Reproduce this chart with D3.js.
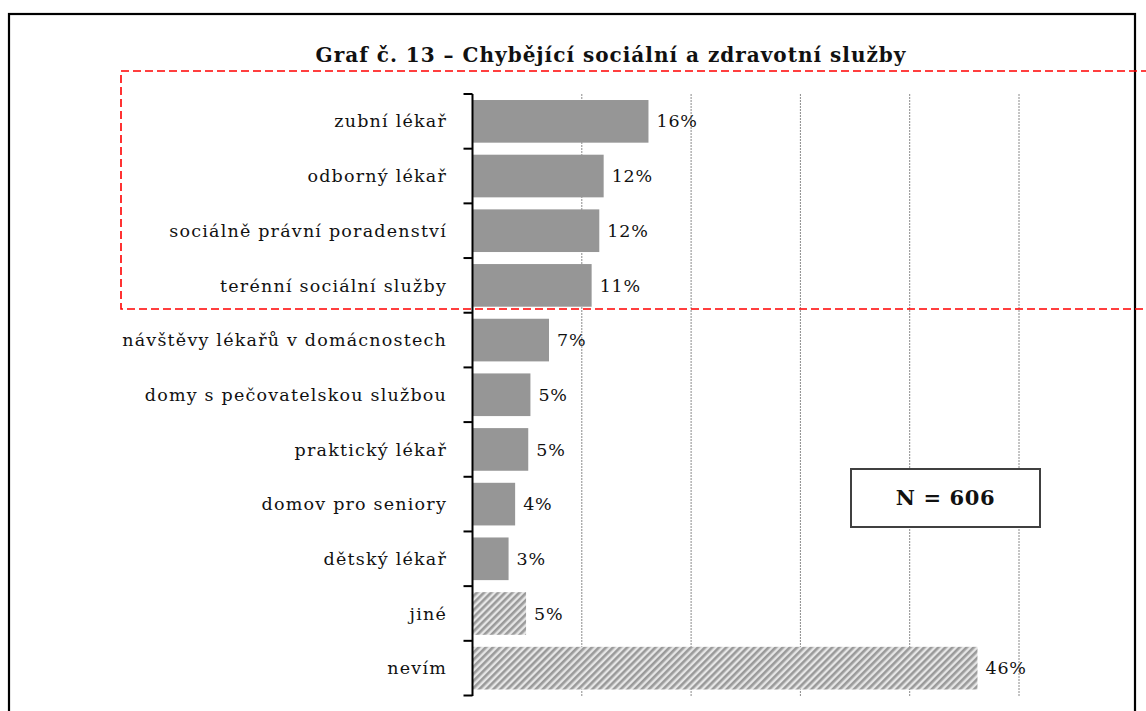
<!DOCTYPE html>
<html>
<head>
<meta charset="utf-8">
<script src="https://cdn.jsdelivr.net/npm/d3@7"></script>
<style>
  body { margin: 0; background: #fff; }
  text { font-family: "DejaVu Serif", serif; fill: #111; }
</style>
</head>
<body>
<div id="chart"></div>
<script>
// Data
const categories = [
  "zubní lékař", "odborný lékař", "sociálně právní poradenství", "terénní sociální služby",
  "návštěvy lékařů v domácnostech", "domy s pečovatelskou službou", "praktický lékař",
  "domov pro seniory", "dětský lékař", "jiné", "nevím"
];
const values = [16.1, 12.0, 11.6, 10.9, 7.0, 5.3, 5.1, 3.9, 3.3, 4.9, 46.2];
const valueLabels = ["16%", "12%", "12%", "11%", "7%", "5%", "5%", "4%", "3%", "5%", "46%"];
const hatched = ["jiné", "nevím"];
const gridTicks = [10, 20, 30, 40, 50];
const title = "Graf č. 13 – Chybějící sociální a zdravotní služby";
const note = "N = 606";

const W = 1146, H = 711;
const svg = d3.select("#chart").append("svg")
  .attr("width", W)
  .attr("height", H);

// hatch pattern for "jiné" / "nevím"
const defs = svg.append("defs");
const pat = defs.append("pattern")
  .attr("id", "hatch")
  .attr("patternUnits", "userSpaceOnUse")
  .attr("width", 5)
  .attr("height", 5)
  .attr("patternTransform", "rotate(45)");
pat.append("rect").attr("width", 5).attr("height", 5).attr("fill", "#e6e6e6");
pat.append("rect").attr("width", 2.6).attr("height", 5).attr("fill", "#9a9a9a");

// outer frame
svg.append("rect")
  .attr("x", 9).attr("y", 14)
  .attr("width", 1126).attr("height", 720)
  .attr("fill", "none")
  .attr("stroke", "#000")
  .attr("stroke-width", 2.2);

// scales
const x = d3.scaleLinear().domain([0, 60]).range([472.5, 472.5 + 60 * 10.93]);
const y = d3.scaleBand().domain(categories).range([94, 695.5]).paddingInner(0.22).paddingOuter(0.11);
const step = y.step();

// gridlines
svg.append("g").selectAll("line")
  .data(gridTicks)
  .enter().append("line")
  .attr("x1", d => x(d)).attr("x2", d => x(d))
  .attr("y1", 94).attr("y2", 696)
  .attr("stroke", "#8a8a8a")
  .attr("stroke-width", 1)
  .attr("stroke-dasharray", "2,1");

// bars
svg.append("g").selectAll("rect")
  .data(categories)
  .enter().append("rect")
  .attr("x", x(0))
  .attr("y", d => y(d))
  .attr("width", (d, i) => x(values[i]) - x(0))
  .attr("height", y.bandwidth())
  .attr("fill", d => hatched.includes(d) ? "url(#hatch)" : "#969696");

// value labels
svg.append("g").selectAll("text")
  .data(categories)
  .enter().append("text")
  .attr("x", (d, i) => x(values[i]) + 8)
  .attr("y", d => y(d) + y.bandwidth() / 2)
  .attr("dy", "0.35em")
  .style("font-size", "17.5px")
  .style("letter-spacing", "0.8px")
  .text((d, i) => valueLabels[i]);

// y axis with outward ticks at band boundaries
const axisG = svg.append("g");
axisG.append("line")
  .attr("x1", x(0)).attr("x2", x(0))
  .attr("y1", 94).attr("y2", 696)
  .attr("stroke", "#000").attr("stroke-width", 2);
const bounds = d3.range(categories.length + 1).map(i => 94 + i * step);
axisG.selectAll(".tick")
  .data(bounds)
  .enter().append("line")
  .attr("class", "tick")
  .attr("x1", x(0) - 9).attr("x2", x(0))
  .attr("y1", d => d).attr("y2", d => d)
  .attr("stroke", "#000").attr("stroke-width", 2);

// category labels
svg.append("g").selectAll("text")
  .data(categories)
  .enter().append("text")
  .attr("x", 447)
  .attr("y", d => y(d) + y.bandwidth() / 2)
  .attr("dy", "0.35em")
  .attr("text-anchor", "end")
  .style("font-size", "17.5px")
  .style("letter-spacing", "1.2px")
  .text(d => d);

// title
svg.append("text")
  .attr("x", 611).attr("y", 62)
  .attr("text-anchor", "middle")
  .style("font-size", "20px")
  .style("font-weight", "bold")
  .style("letter-spacing", "1px")
  .text(title);

// N box
svg.append("rect")
  .attr("x", 851).attr("y", 469)
  .attr("width", 189).attr("height", 58)
  .attr("fill", "#fff")
  .attr("stroke", "#404040")
  .attr("stroke-width", 2);
svg.append("text")
  .attr("x", 945.5).attr("y", 498)
  .attr("dy", "0.35em")
  .attr("text-anchor", "middle")
  .style("font-size", "21px")
  .style("font-weight", "bold")
  .style("letter-spacing", "0.6px")
  .text(note);

// red dashed highlight
svg.append("rect")
  .attr("x", 121).attr("y", 71)
  .attr("width", 1040).attr("height", 238)
  .attr("fill", "none")
  .attr("stroke", "#ff0000")
  .attr("stroke-width", 1.6)
  .attr("stroke-dasharray", "8,4");
</script>
</body>
</html>
